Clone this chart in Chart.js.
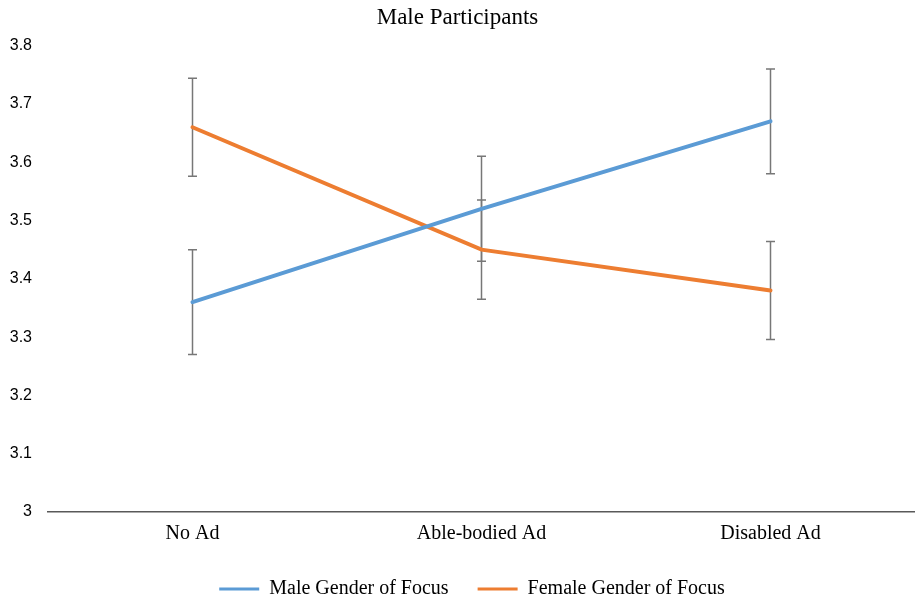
<!DOCTYPE html>
<html>
<head>
<meta charset="utf-8">
<script src="https://cdn.jsdelivr.net/npm/chart.js@4/dist/chart.umd.min.js"></script>
<style>
html,body{margin:0;padding:0;background:#fff;}
#wrap{width:915px;height:601px;position:relative;}
</style>
</head>
<body>
<div id="wrap"><canvas id="c" width="915" height="601"></canvas></div>
<script>
const categories = ["No Ad", "Able-bodied Ad", "Disabled Ad"];
const maleValues = [3.36, 3.52, 3.67];
const femaleValues = [3.66, 3.45, 3.38];
const maleErrors = [0.09, 0.09, 0.09];
const femaleErrors = [0.084, 0.085, 0.084];
const seriesNames = ["Male Gender of Focus", "Female Gender of Focus"];
const yTicks = [3, 3.1, 3.2, 3.3, 3.4, 3.5, 3.6, 3.7, 3.8];

const errorBarPlugin = {
  id: 'errorBars',
  beforeDatasetsDraw(chart) {
    const ctx = chart.ctx;
    const y = chart.scales.y;
    ctx.save();
    ctx.strokeStyle = '#777777';
    ctx.lineWidth = 1.5;
    chart.data.datasets.forEach((ds, di) => {
      const meta = chart.getDatasetMeta(di);
      meta.data.forEach((pt, i) => {
        const v = ds.data[i];
        const e = ds.errors[i];
        const x = pt.x;
        const yt = y.getPixelForValue(v + e);
        const yb = y.getPixelForValue(v - e);
        ctx.beginPath();
        ctx.moveTo(x, yt); ctx.lineTo(x, yb);
        ctx.moveTo(x - 4.5, yt); ctx.lineTo(x + 4.5, yt);
        ctx.moveTo(x - 4.5, yb); ctx.lineTo(x + 4.5, yb);
        ctx.stroke();
      });
    });
    ctx.restore();
  }
};

const legendFitPlugin = {
  id: 'legendFit',
  beforeLayout(chart) {
    const lg = chart.legend;
    if (lg && !lg._patched) {
      const orig = lg.fit;
      lg.fit = function () {
        orig.call(this);
        this.height -= 8;
        const pad = this.options.labels.padding;
        if (this.lineWidths) this.lineWidths = this.lineWidths.map(w => w - pad);
      };
      lg._patched = true;
    }
  }
};

new Chart(document.getElementById('c'), {
  type: 'line',
  data: {
    labels: categories,
    datasets: [
      { label: seriesNames[0], data: maleValues, errors: maleErrors, borderColor: '#5B9BD5', backgroundColor: '#5B9BD5', borderWidth: 4, pointRadius: 0, tension: 0, borderCapStyle: 'round' },
      { label: seriesNames[1], data: femaleValues, errors: femaleErrors, borderColor: '#ED7D31', backgroundColor: '#ED7D31', borderWidth: 4, pointRadius: 0, tension: 0, borderCapStyle: 'round' }
    ]
  },
  options: {
    responsive: false,
    animation: false,
    layout: { padding: { left: 0, right: 0, top: 0, bottom: 0 } },
    plugins: {
      title: { display: true, text: 'Male Participants', color: '#000', font: { family: 'Liberation Serif', size: 23, weight: 'normal' }, padding: { top: 4, bottom: 14 } },
      legend: {
        position: 'bottom',
        labels: {
          color: '#000',
          font: { family: 'Liberation Serif', size: 20 },
          boxWidth: 40, boxHeight: 3, padding: 29,
          generateLabels(chart) {
            return chart.data.datasets.map((ds, i) => ({ text: ds.label, fillStyle: ds.borderColor, strokeStyle: ds.borderColor, lineWidth: 0, datasetIndex: i, fontColor: '#000' }));
          }
        }
      },
      tooltip: { enabled: false }
    },
    scales: {
      x: {
        offset: true,
        afterFit(axis) { axis.height = 38; },
        grid: { display: false, drawTicks: false },
        border: { display: true, color: '#595959', width: 1.5 },
        ticks: { color: '#000', font: { family: 'Liberation Serif', size: 20 }, padding: 10 }
      },
      y: {
        min: 3, max: 3.8,
        afterBuildTicks(axis) { axis.ticks = yTicks.map(v => ({ value: v })); },
        afterFit(axis) { axis.width = 48; },
        grid: { display: false, drawTicks: false },
        border: { display: false },
        ticks: { color: '#000', font: { family: 'Liberation Sans', size: 16 }, padding: 16, callback: v => String(Math.round(v * 10) / 10) }
      }
    }
  },
  plugins: [errorBarPlugin, legendFitPlugin]
});
</script>
</body>
</html>
